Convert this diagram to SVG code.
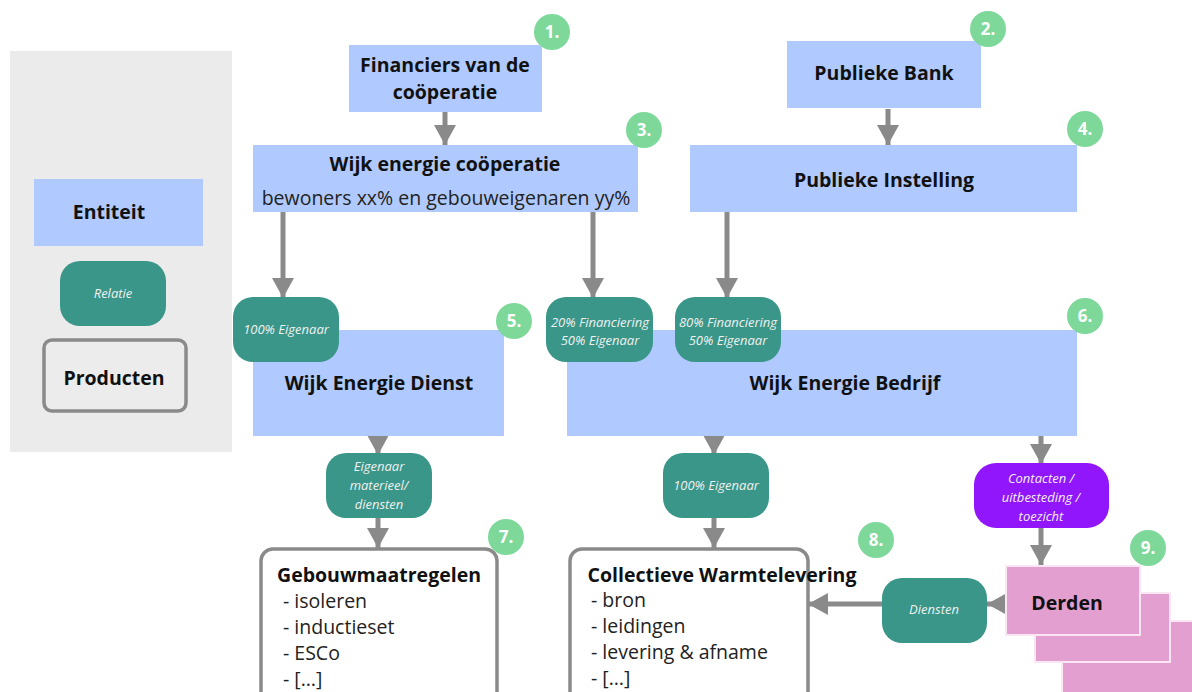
<svg xmlns="http://www.w3.org/2000/svg" width="1192" height="692" viewBox="0 0 1192 692">
<defs>
<style>
.ent{fill:#b0caff;}
.rel{fill:#3a9688;}
.prod{fill:#fff;stroke:#8a8a8a;stroke-width:3.5;}
.badge{fill:#7dd89a;}
.bt{font-family:"Open Sans","Liberation Sans",sans-serif;font-weight:bold;font-size:17px;fill:#fff;text-anchor:middle;}
.t{font-family:"Open Sans","Liberation Sans",sans-serif;font-weight:bold;font-size:19.5px;fill:#111;text-anchor:middle;}
.s{font-family:"Open Sans","Liberation Sans",sans-serif;font-size:19.5px;fill:#222;}
.r{font-family:"Open Sans","Liberation Sans",sans-serif;font-style:italic;font-size:13px;fill:#f0f0f0;text-anchor:middle;}
.c{stroke:#8a8a8a;stroke-width:5;fill:none;marker-end:url(#ah);}
.pink{fill:#e39fcf;stroke:#fbe6f4;stroke-width:2;}
</style>
<marker id="ah" markerUnits="userSpaceOnUse" markerWidth="22" markerHeight="22" refX="20" refY="11" orient="auto">
<path d="M0,0 L20,11 L0,22 Z" fill="#8a8a8a"/>
</marker>
</defs>
<rect width="1192" height="692" fill="#fff"/>

<g id="legend">
<rect x="10" y="51" width="222" height="401" fill="#ebebeb"/>
<rect class="ent" x="34" y="179" width="169" height="67"/>
<text class="t" x="109" y="219">Entiteit</text>
<rect class="rel" x="60" y="261" width="106" height="65" rx="20"/>
<text class="r" x="113" y="298">Relatie</text>
<rect class="prod" x="44" y="340" width="142" height="71" rx="8" style="fill:#ececec"/>
<text class="t" x="114" y="385">Producten</text>
</g>

<g id="connectors">
<line class="c" x1="445" y1="112" x2="445" y2="145"/>
<line class="c" x1="888" y1="109" x2="888" y2="145"/>
<line class="c" x1="283" y1="210" x2="283" y2="298"/>
<line class="c" x1="593" y1="210" x2="593" y2="298"/>
<line class="c" x1="727" y1="210" x2="727" y2="298"/>
<line class="c" x1="378" y1="436" x2="378" y2="455"/>
<line class="c" x1="378" y1="518" x2="378" y2="548"/>
<line class="c" x1="714" y1="436" x2="714" y2="455"/>
<line class="c" x1="714" y1="518" x2="714" y2="548"/>
<line class="c" x1="1041" y1="436" x2="1041" y2="464"/>
<line class="c" x1="1041" y1="528" x2="1041" y2="565"/>
<line class="c" x1="1008" y1="604" x2="987" y2="604"/>
<line class="c" x1="883" y1="604" x2="808" y2="604"/>
</g>

<g id="n1">
<rect class="ent" x="349" y="45" width="193" height="67"/>
<text class="t" x="445" y="72">Financiers van de</text>
<text class="t" x="445" y="99">coöperatie</text>
<circle class="badge" cx="552" cy="32" r="18"/>
<text class="bt" x="552" y="38">1.</text>
</g>

<g id="n2">
<rect class="ent" x="787" y="41" width="194" height="67"/>
<text class="t" x="884" y="80">Publieke Bank</text>
<circle class="badge" cx="988" cy="29" r="18"/>
<text class="bt" x="988" y="35">2.</text>
</g>

<g id="n3">
<rect class="ent" x="253" y="145" width="385" height="67"/>
<text class="t" x="445" y="171">Wijk energie coöperatie</text>
<text class="s" x="446" y="205" text-anchor="middle">bewoners xx% en gebouweigenaren yy%</text>
<circle class="badge" cx="644" cy="130" r="18"/>
<text class="bt" x="644" y="136">3.</text>
</g>

<g id="n4">
<rect class="ent" x="690" y="145" width="387" height="67"/>
<text class="t" x="884" y="187">Publieke Instelling</text>
<circle class="badge" cx="1085" cy="129" r="18"/>
<text class="bt" x="1085" y="135">4.</text>
</g>

<g id="n5">
<rect class="ent" x="253" y="330" width="251" height="106"/>
<text class="t" x="379" y="390">Wijk Energie Dienst</text>
<circle class="badge" cx="514" cy="321" r="18"/>
<text class="bt" x="514" y="327">5.</text>
</g>

<g id="n6">
<rect class="ent" x="567" y="330" width="510" height="106"/>
<text class="t" x="845" y="390">Wijk Energie Bedrijf</text>
<circle class="badge" cx="1085" cy="316" r="18"/>
<text class="bt" x="1085" y="322">6.</text>
</g>

<g id="r1">
<rect class="rel" x="233" y="297" width="106" height="65" rx="20"/>
<text class="r" x="286" y="334">100% Eigenaar</text>
</g>
<g id="r2">
<rect class="rel" x="546" y="297" width="107" height="65" rx="20"/>
<text class="r" x="600" y="327">20% Financiering</text>
<text class="r" x="600" y="345">50% Eigenaar</text>
</g>
<g id="r3">
<rect class="rel" x="675" y="297" width="106" height="65" rx="20"/>
<text class="r" x="728" y="327">80% Financiering</text>
<text class="r" x="728" y="345">50% Eigenaar</text>
</g>
<g id="r4">
<rect class="rel" x="326" y="453" width="106" height="65" rx="20"/>
<text class="r" x="379" y="471">Eigenaar</text>
<text class="r" x="379" y="490">materieel/</text>
<text class="r" x="379" y="509">diensten</text>
</g>
<g id="r5">
<rect class="rel" x="663" y="453" width="106" height="65" rx="20"/>
<text class="r" x="716" y="490">100% Eigenaar</text>
</g>
<g id="r6">
<rect x="974" y="463" width="135" height="65" rx="22" fill="#9116fb"/>
<text class="r" x="1041" y="483">Contacten /</text>
<text class="r" x="1041" y="502">uitbesteding /</text>
<text class="r" x="1041" y="521">toezicht</text>
</g>
<g id="r7">
<rect class="rel" x="882" y="578" width="105" height="65" rx="20"/>
<text class="r" x="934" y="614">Diensten</text>
</g>

<g id="n7">
<rect class="prod" x="261" y="549" width="236" height="160" rx="12"/>
<text class="t" x="379" y="582">Gebouwmaatregelen</text>
<text class="s" x="283" y="608">- isoleren</text>
<text class="s" x="283" y="634">- inductieset</text>
<text class="s" x="283" y="660">- ESCo</text>
<text class="s" x="283" y="686">- […]</text>
<circle class="badge" cx="506" cy="537" r="18"/>
<text class="bt" x="506" y="543">7.</text>
</g>

<g id="n8">
<rect class="prod" x="570" y="549" width="238" height="160" rx="12"/>
<text class="t" x="722" y="582">Collectieve Warmtelevering</text>
<text class="s" x="591" y="607">- bron</text>
<text class="s" x="591" y="633">- leidingen</text>
<text class="s" x="591" y="659">- levering &amp; afname</text>
<text class="s" x="591" y="685">- […]</text>
<circle class="badge" cx="876" cy="540" r="18"/>
<text class="bt" x="876" y="546">8.</text>
</g>

<g id="n9">
<rect class="pink" x="1062" y="621" width="135" height="75"/>
<rect class="pink" x="1035" y="593" width="135" height="69"/>
<rect class="pink" x="1006" y="566" width="134" height="69"/>
<text class="t" x="1067" y="610">Derden</text>
<circle class="badge" cx="1148" cy="548" r="18"/>
<text class="bt" x="1148" y="554">9.</text>
</g>
</svg>
